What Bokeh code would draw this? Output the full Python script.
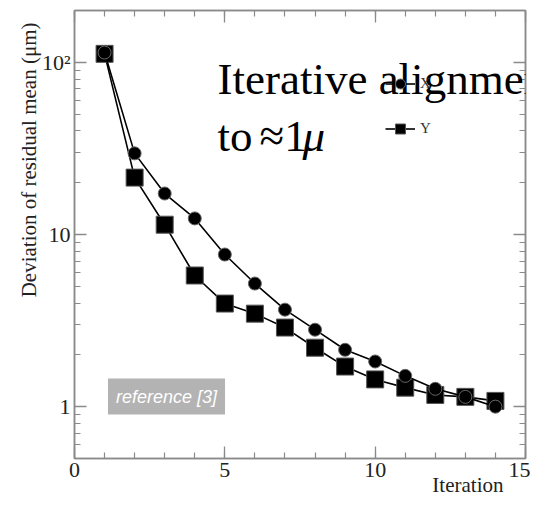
import math
from bokeh.plotting import figure
from bokeh.models import (FixedTicker, LinearAxis, LogAxis, Label, Legend, LegendItem,
                          Range1d, Title)
from bokeh.embed import file_html
from bokeh.resources import INLINE

# ---- data ----
iterations = [1, 2, 3, 4, 5, 6, 7, 8, 9, 10, 11, 12, 13, 14]
dev_x = [114, 29.6, 17.3, 12.4, 7.65, 5.19, 3.66, 2.80, 2.14, 1.83, 1.51, 1.27, 1.14, 1.00]
dev_y = [112, 21.4, 11.4, 5.78, 3.97, 3.47, 2.88, 2.20, 1.71, 1.44, 1.29, 1.17, 1.14, 1.08]
x_ticks = [0, 5, 10, 15]
y_ticks = [1, 10, 100]
y_tick_labels = {1: "1", 10: "10", 100: "10\u00b2"}
series_names = ["X", "Y"]

SERIF = "Liberation Serif"
GRAY = "#8a8a8a"

p = figure(width=530, height=511, y_axis_type="log",
           x_range=Range1d(0, 15), y_range=Range1d(0.5, 200),
           output_backend="svg", toolbar_location=None,
           min_border_left=74, min_border_right=5,
           min_border_top=10, min_border_bottom=53,
           background_fill_color="white", border_fill_color="white")
p.grid.visible = False
p.outline_line_color = GRAY
p.outline_line_width = 1.5

minor_y = [0.6, 0.7, 0.8, 0.9] + [m * d for d in (1, 10) for m in range(2, 10)] + [200]
minor_x = list(range(0, 16))

def style_axis(ax):
    ax.axis_line_color = GRAY
    ax.axis_line_width = 1.5
    ax.major_tick_line_color = GRAY
    ax.minor_tick_line_color = GRAY
    ax.major_tick_line_width = 1.3
    ax.minor_tick_line_width = 1.2
    ax.major_tick_out = 0
    ax.minor_tick_out = 0
    ax.major_tick_in = 12
    ax.minor_tick_in = 6
    ax.major_label_text_font = SERIF
    ax.major_label_text_color = "#222222"
    ax.major_label_text_font_size = "22px"

xa = p.xaxis[0]
xa.ticker = FixedTicker(ticks=x_ticks, minor_ticks=minor_x)
style_axis(xa)
xa.major_label_standoff = 4

ya = p.yaxis[0]
ya.ticker = FixedTicker(ticks=y_ticks, minor_ticks=minor_y)
ya.major_label_overrides = y_tick_labels
style_axis(ya)
ya.major_label_standoff = 4

top = LinearAxis(ticker=FixedTicker(ticks=x_ticks, minor_ticks=minor_x))
style_axis(top)
top.major_label_text_alpha = 0
top.major_label_text_font_size = "1px"
top.major_label_standoff = 0
p.add_layout(top, "above")
right = LogAxis(ticker=FixedTicker(ticks=y_ticks, minor_ticks=minor_y))
style_axis(right)
right.major_label_text_alpha = 0
right.major_label_text_font_size = "1px"
right.major_label_standoff = 0
p.add_layout(right, "right")

# axis titles
p.add_layout(Title(text="Deviation of residual mean (\u03bcm)", align="right",
                   offset=12, standoff=-4, text_font=SERIF, text_font_size="21px",
                   text_font_style="normal", text_color="#222222"), "left")
p.add_layout(Title(text="Iteration", align="right", offset=22, standoff=-17,
                   text_font=SERIF, text_font_size="21px",
                   text_font_style="normal", text_color="#222222"), "below")

# ---- data series ----
ly = p.line(iterations, dev_y, line_color="black", line_width=1.6)
sy = p.scatter(iterations, dev_y, marker="square", size=17, fill_color="black",
               line_color="#555555", line_width=1)
lx = p.line(iterations, dev_x, line_color="black", line_width=1.6)
sx = p.scatter(iterations, dev_x, marker="circle", size=13, fill_color="black",
               line_color="#666666", line_width=1)

legend = Legend(items=[LegendItem(label=series_names[0], renderers=[lx, sx]),
                       LegendItem(label=series_names[1], renderers=[ly, sy])],
                location=(311, 317), padding=0, margin=0, spacing=20,
                glyph_width=30, glyph_height=25, label_height=20,
                border_line_alpha=0, background_fill_alpha=0,
                label_text_font=SERIF, label_text_font_size="15px",
                label_text_color="#333333", label_standoff=5,
                level="underlay")
p.add_layout(legend)

# ---- annotations ----
TS = "45px"
p.add_layout(Label(x=143, y=380, x_units="screen", y_units="screen",
                   text="Iterative alignment", text_font=SERIF,
                   text_font_size=TS, text_color="black",
                   text_baseline="alphabetic"))
p.add_layout(Label(x=143, y=323, x_units="screen", y_units="screen",
                   text="to", text_font=SERIF,
                   text_font_size=TS, text_color="black",
                   text_baseline="alphabetic"))
p.add_layout(Label(x=185, y=323, x_units="screen", y_units="screen",
                   text="\u22481", text_font=SERIF,
                   text_font_size=TS, text_color="black",
                   text_baseline="alphabetic"))
p.add_layout(Label(x=228, y=323, x_units="screen", y_units="screen",
                   text="\u03bc", text_font=SERIF, text_font_style="italic",
                   text_font_size=TS, text_color="black",
                   text_baseline="alphabetic"))

p.add_layout(Label(x=92, y=62, x_units="screen", y_units="screen",
                   text="reference [3]", text_font="Liberation Sans",
                   text_font_style="italic", text_font_size="18px",
                   text_color="white", text_align="center",
                   text_baseline="middle", background_fill_color="#b3b3b3",
                   padding=8))

open("out.html", "w").write(file_html(p, INLINE))
